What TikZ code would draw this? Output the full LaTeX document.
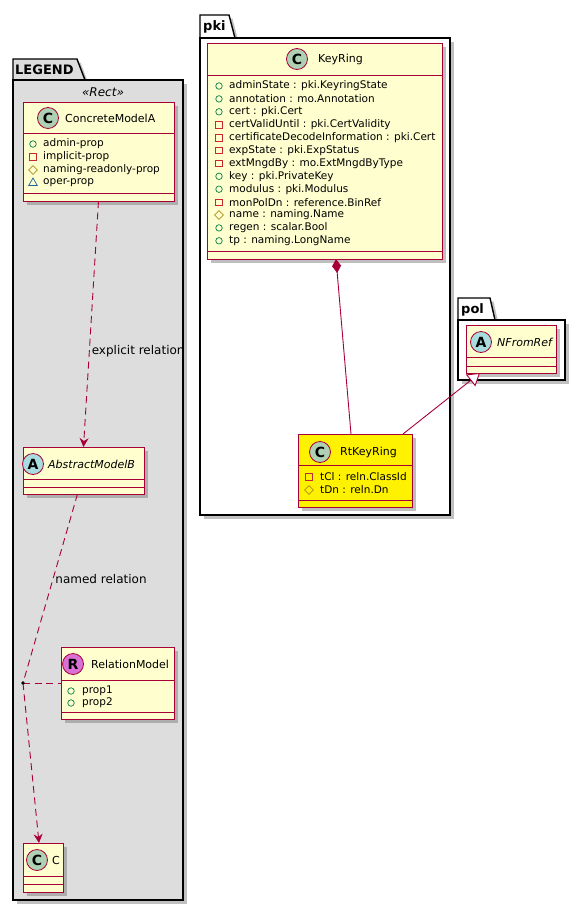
\documentclass[tikz,border=0pt]{standalone}
\usepackage{fontspec}
\setmainfont{DejaVu Sans}
\usetikzlibrary{arrows.meta,positioning,shapes.geometric,shadows}
\definecolor{umlred}{HTML}{A80036}
\definecolor{umlfill}{HTML}{FEFECE}
\definecolor{legendfill}{HTML}{DDDDDD}
\definecolor{spotc}{HTML}{ADD1B2}
\definecolor{spota}{HTML}{A9DCDF}
\definecolor{spotr}{HTML}{DA70D6}
\definecolor{vispub}{HTML}{038048}
\definecolor{vispriv}{HTML}{C82930}
\definecolor{visprot}{HTML}{B38D22}
\definecolor{vispkg}{HTML}{1963A0}

\begin{document}
\begin{tikzpicture}[x=1pt, y=-1pt,
    umlshadow/.style={drop shadow={shadow xshift=3.5pt, shadow yshift=-3.5pt, fill=black!55, opacity=.45}},
    pkgline/.style={draw=black, line width=1.4pt, umlshadow},
    pkgbody/.style={pkgline, rectangle, inner sep=0pt, outer sep=0pt},
    pkglabel/.style={anchor=west, inner sep=0pt, font=\fontsize{13}{15}\selectfont\bfseries},
    classbox/.style={rectangle, draw=umlred, line width=1pt, fill=umlfill, inner sep=0pt, outer sep=0pt, umlshadow},
    compline/.style={draw=umlred, line width=1pt},
    spot/.style={circle, draw=umlred, line width=0.8pt, minimum size=21pt, inner sep=0pt, font=\fontsize{14}{14}\selectfont\bfseries},
    cname/.style={anchor=west, inner sep=0pt, font=\fontsize{11}{13}\selectfont},
    attr/.style={anchor=west, inner sep=0pt, font=\fontsize{10.5}{12}\selectfont},
    vpub/.style={circle, draw=vispub, minimum size=6.5pt, inner sep=0pt, line width=0.7pt},
    vpriv/.style={rectangle, draw=vispriv, minimum size=6.5pt, inner sep=0pt, line width=0.7pt},
    vprot/.style={diamond, draw=visprot, minimum size=9pt, inner sep=0pt, line width=0.7pt},
    vpkg/.style={regular polygon, regular polygon sides=3, draw=vispkg, minimum size=10pt, inner sep=0pt, line width=0.7pt},
    elabel/.style={anchor=west, inner sep=2pt, font=\fontsize{12}{14}\selectfont},
    assocline/.style={draw=umlred, line width=0.9pt, dash pattern=on 7pt off 4.5pt},
    depline/.style={assocline, -{Stealth[length=9pt, width=9pt, inset=3pt]}},
    ownline/.style={draw=umlred, line width=0.9pt, -{Diamond[length=14pt, width=9pt]}},
    genline/.style={draw=umlred, line width=0.9pt, -{Triangle[length=12pt, width=15pt, fill=white]}}
]
\useasboundingbox (0,0) rectangle (585,911);

% packages
\draw[pkgline, fill=legendfill] (13,80) -- (13,59) -- (77,59) -- (85,80) -- cycle;
\node[pkgbody, fill=legendfill, minimum width=170, minimum height=820] (legend) at (98,490) {};
\node[pkglabel] (legend-tab) at (15,70) {LEGEND};
\node[font=\fontsize{12}{14}\selectfont\itshape, inner sep=0pt] (legend-stereo) at (103,92) {«Rect»};

\draw[pkgline, fill=white] (200,38) -- (200,15) -- (229,15) -- (235,38) -- cycle;
\node[pkgbody, fill=white, minimum width=250, minimum height=477] (pki) at (325,276.5) {};
\node[pkglabel] (pki-tab) at (203,27) {pki};

\draw[pkgline, fill=white] (458,320) -- (458,298) -- (490,298) -- (495,320) -- cycle;
\node[pkgbody, fill=white, minimum width=107, minimum height=60] (pol) at (511.5,350) {};
\node[pkglabel] (pol-tab) at (461,310) {pol};

% legend classes
\node[classbox, minimum width=151, minimum height=99] (concreteA) at (98.5,151.5) {};
\node[spot, fill=spotc] (concreteA-spot) at (48,118) {C};
\node[cname] (concreteA-name) at (65,118) {ConcreteModelA};
\draw[compline] (concreteA.west |- 0,133) -- (concreteA.east |- 0,133);
\draw[compline] (concreteA.west |- 0,193) -- (concreteA.east |- 0,193);
\foreach \vis/\txt [count=\i from 0] in {vpub/admin-prop, vpriv/implicit-prop, vprot/naming-readonly-prop, vpkg/oper-prop} {
    \node[\vis] (concreteA-v\i) at (33,{144+13*\i}) {};
    \node[attr] (concreteA-a\i) at (43,{144+13*\i}) {\txt};
}

\node[classbox, minimum width=121, minimum height=47] (abstractB) at (83.5,470.5) {};
\node[spot, fill=spota] (abstractB-spot) at (33,464) {A};
\node[cname, font=\fontsize{11}{13}\selectfont\itshape] (abstractB-name) at (48,464) {AbstractModelB};
\draw[compline] (abstractB.west |- 0,479) -- (abstractB.east |- 0,479);
\draw[compline] (abstractB.west |- 0,487) -- (abstractB.east |- 0,487);

\node[classbox, minimum width=113, minimum height=72] (relmodel) at (117.5,683) {};
\node[spot, fill=spotr] (relmodel-spot) at (73,664) {R};
\node[cname] (relmodel-name) at (91,664) {RelationModel};
\draw[compline] (relmodel.west |- 0,680) -- (relmodel.east |- 0,680);
\draw[compline] (relmodel.west |- 0,712) -- (relmodel.east |- 0,712);
\foreach \txt [count=\i from 0] in {prop1, prop2} {
    \node[vpub] (relmodel-v\i) at (71,{691+12*\i}) {};
    \node[attr] (relmodel-a\i) at (82,{691+12*\i}) {\txt};
}

\node[classbox, minimum width=40, minimum height=49] (cbox) at (43,867.5) {};
\node[spot, fill=spotc] (cbox-spot) at (37,860) {C};
\node[cname] (cbox-name) at (52,860) {C};
\draw[compline] (cbox.west |- 0,876) -- (cbox.east |- 0,876);
\draw[compline] (cbox.west |- 0,884) -- (cbox.east |- 0,884);

% pki classes
\node[classbox, minimum width=235, minimum height=216] (keyring) at (324.5,151) {};
\node[spot, fill=spotc] (keyring-spot) at (297,59) {C};
\node[cname] (keyring-name) at (318,59) {KeyRing};
\draw[compline] (keyring.west |- 0,75) -- (keyring.east |- 0,75);
\draw[compline] (keyring.west |- 0,251) -- (keyring.east |- 0,251);
\foreach \vis/\txt [count=\i from 0] in {
    vpub/adminState : pki.KeyringState,
    vpub/annotation : mo.Annotation,
    vpub/cert : pki.Cert,
    vpriv/certValidUntil : pki.CertValidity,
    vpriv/certificateDecodeInformation : pki.Cert,
    vpriv/expState : pki.ExpStatus,
    vpriv/extMngdBy : mo.ExtMngdByType,
    vpub/key : pki.PrivateKey,
    vpub/modulus : pki.Modulus,
    vpriv/monPolDn : reference.BinRef,
    vprot/name : naming.Name,
    vpub/regen : scalar.Bool,
    vpub/tp : naming.LongName} {
    \node[\vis] (keyring-v\i) at (219,{86+12.9*\i}) {};
    \node[attr] (keyring-a\i) at (229,{86+12.9*\i}) {\txt};
}

\node[classbox, fill=yellow, minimum width=114, minimum height=73] (rtkeyring) at (355,470.5) {};
\node[spot, fill=spotc] (rtkeyring-spot) at (320,452) {C};
\node[cname] (rtkeyring-name) at (340,452) {RtKeyRing};
\draw[compline] (rtkeyring.west |- 0,465) -- (rtkeyring.east |- 0,465);
\draw[compline] (rtkeyring.west |- 0,500) -- (rtkeyring.east |- 0,500);
\foreach \vis/\txt [count=\i from 0] in {vpriv/tCl : reln.ClassId, vprot/tDn : reln.Dn} {
    \node[\vis] (rtkeyring-v\i) at (309,{477+13*\i}) {};
    \node[attr] (rtkeyring-a\i) at (320,{477+13*\i}) {\txt};
}

% pol classes
\node[classbox, minimum width=90, minimum height=48] (nfromref) at (511,349) {};
\node[spot, fill=spota] (nfromref-spot) at (481,342) {A};
\node[cname, font=\fontsize{11}{13}\selectfont\itshape] (nfromref-name) at (497,342) {NFromRef};
\draw[compline] (nfromref.west |- 0,357) -- (nfromref.east |- 0,357);
\draw[compline] (nfromref.west |- 0,366) -- (nfromref.east |- 0,366);

% relations
\draw[depline] (concreteA.south) -- node[elabel, pos=.61] {explicit relation} (abstractB.north);
\coordinate (assocdot) at (23,683);
\draw[assocline] ([xshift=-6pt]abstractB.south) -- node[elabel, pos=.45] {named relation} (assocdot);
\draw[depline] (assocdot) -- ([xshift=-4pt]cbox.north);
\draw[assocline] (assocdot) -- (relmodel.west);
\fill[black] (assocdot) circle (1.8);

\draw[ownline] ([xshift=-4pt]rtkeyring.north) -- ([xshift=11.5pt]keyring.south);
\draw[genline] ([xshift=48pt]rtkeyring.north) -- ([xshift=-31pt]nfromref.south);
\end{tikzpicture}
\end{document}
